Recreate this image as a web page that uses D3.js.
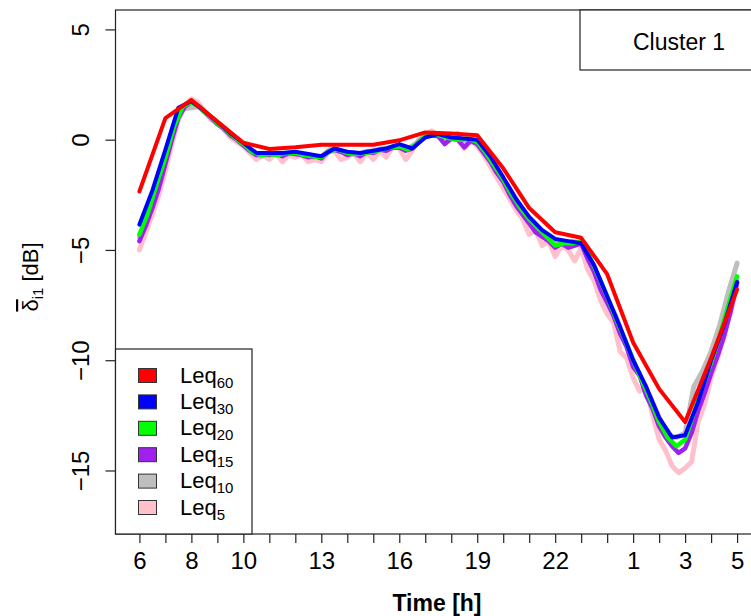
<!DOCTYPE html>
<html>
<head>
<meta charset="utf-8">
<script src="https://cdn.jsdelivr.net/npm/d3@7"></script>
<style>
  body { margin: 0; background: #fff; }
  text { font-family: "Liberation Sans", Arial, sans-serif; fill: #000; }
</style>
</head>
<body>
<div id="chart"></div>
<script>
// hour labels on the x axis (index 0 = 6h ... 23 = 5h)
const hourTicks = d3.range(24);
const hourLabels = {0: '6', 2: '8', 4: '10', 7: '13', 10: '16', 13: '19', 16: '22', 19: '1', 21: '3', 23: '5'};
const yTicks = [5, 0, -5, -10, -15];

const seriesNames = ['60', '30', '20', '15', '10', '5'];
const seriesColors = ['#ff0000', '#0000ff', '#00ff00', '#a020f0', '#bebebe', '#ffc0cb'];

// values in dB, one array per averaging interval
const leq60 = [-2.35, 0.98, 1.8, 0.82, -0.14, -0.42, -0.34, -0.23, -0.23, -0.23, -0.03, 0.33,
  0.28, 0.2, -1.3, -3.1, -4.2, -4.45, -6.1, -9.2, -11.3, -12.8, -9.9, -6.8];

const leq30 = [-3.85, -2.3, -0.45, 1.45, 1.75, 1.3, 0.8, 0.3, -0.15, -0.6, -0.6, -0.6,
  -0.55, -0.65, -0.75, -0.4, -0.55, -0.6, -0.5, -0.4, -0.2, -0.4, 0.1, 0.25,
  0.1, 0.05, 0.0, -0.75, -1.7, -2.7, -3.5, -4.1, -4.5, -4.6, -4.7, -5.7,
  -7.1, -8.5, -10.0, -11.2, -12.6, -13.5, -13.4, -11.9, -10.0, -8.4, -6.45];

const leq20 = [-4.3, -3.3, -2.0, -0.8, 0.6, 1.5, 1.7, 1.45, 1.1, 0.75, 0.45, 0.1,
  -0.2, -0.55, -0.7, -0.65, -0.7, -0.6, -0.6, -0.7, -0.75, -0.8, -0.5, -0.45,
  -0.6, -0.65, -0.6, -0.55, -0.45, -0.35, -0.3, -0.45, -0.2, 0.15, 0.25, 0.15,
  0.05, 0.0, 0.05, -0.1, -0.6, -1.2, -1.8, -2.5, -3.1, -3.6, -4.0, -4.4,
  -4.8, -4.7, -4.7, -4.6, -5.3, -6.2, -7.1, -8.1, -9.0, -10.0, -10.9, -11.8,
  -12.8, -13.5, -13.9, -13.6, -12.4, -11.2, -10.1, -8.9, -7.5, -6.2];

const leq15 = [-4.6, -3.9, -3.1, -2.2, -1.1, 0.0, 1.0, 1.5, 1.7, 1.55, 1.25, 1.0,
  0.7, 0.5, 0.2, 0.0, -0.25, -0.5, -0.7, -0.65, -0.7, -0.6, -0.75, -0.6,
  -0.65, -0.7, -0.8, -0.75, -0.85, -0.55, -0.45, -0.55, -0.7, -0.6, -0.75, -0.55,
  -0.6, -0.45, -0.5, -0.35, -0.35, -0.5, -0.4, -0.1, 0.15, 0.2, 0.15, -0.2,
  0.05, 0.0, -0.35, -0.05, -0.2, -0.6, -1.0, -1.5, -1.9, -2.5, -3.0, -3.4,
  -3.8, -4.2, -4.4, -4.6, -4.9, -4.7, -4.9, -4.8, -4.7, -5.4, -6.0, -6.8,
  -7.4, -8.0, -8.8, -9.4, -10.3, -10.7, -11.6, -12.2, -13.0, -13.5, -13.9, -14.2,
  -14.0, -13.3, -12.3, -11.5, -10.6, -9.8, -8.9, -7.8, -6.5];

const leq10 = [-4.4, -3.4, -2.1, -0.9, 0.5, 1.4, 1.45, 1.5, 1.1, 0.75, 0.4, 0.1,
  -0.25, -0.6, -0.75, -0.65, -0.7, -0.65, -0.6, -0.7, -0.8, -0.75, -0.45, -0.5,
  -0.6, -0.7, -0.55, -0.5, -0.4, -0.4, -0.3, -0.4, -0.15, 0.2, 0.3, 0.1,
  0.1, 0.0, -0.1, -0.15, -0.6, -1.2, -1.8, -2.4, -3.0, -3.6, -4.1, -4.4,
  -4.6, -4.8, -4.6, -4.7, -5.4, -6.3, -7.2, -8.0, -9.1, -10.0, -10.9, -11.7,
  -12.6, -13.4, -13.5, -13.3, -11.2, -10.5, -9.6, -8.4, -6.9, -5.6];

const leq5 = [-5.0, -4.2, -3.4, -2.5, -1.4, -0.2, 0.9, 1.5, 1.85, 1.7, 1.3, 0.9,
  0.8, 0.45, 0.1, -0.1, -0.3, -0.6, -0.9, -0.7, -0.9, -0.6, -1.0, -0.7,
  -0.8, -0.7, -1.0, -0.9, -1.0, -0.6, -0.5, -0.9, -0.8, -0.6, -1.0, -0.6,
  -0.9, -0.5, -0.8, -0.3, -0.4, -0.9, -0.5, 0.0, 0.2, 0.4, 0.2, -0.1,
  0.0, 0.3, -0.4, 0.0, -0.3, -0.7, -1.2, -1.7, -2.2, -2.7, -3.2, -3.6,
  -4.3, -4.1, -4.8, -4.6, -5.3, -4.8, -5.0, -5.5, -4.9, -5.9, -6.4, -7.3,
  -7.9, -8.3, -9.6, -9.9, -10.8, -11.4, -11.2, -12.5, -13.6, -14.1, -14.8, -15.1,
  -14.9, -14.6, -12.8, -12.0, -10.8, -9.9, -8.9, -7.8, -6.4];

const width = 751, height = 616;
const margin = {top: 10, left: 115.5, bottom: 82};
const plotRight = 761; // R box runs past the right edge of the picture

const svg = d3.select('#chart').append('svg')
  .attr('width', width)
  .attr('height', height);

// R style 4% padding round xlim = c(0, 23), ylim = c(-17, 5)
const x = d3.scaleLinear().domain([-0.92, 23.92]).range([margin.left, plotRight]);
const y = d3.scaleLinear().domain([-17.88, 5.88]).range([height - margin.bottom, margin.top]);

const plot = svg.append('g');

// draw the smoothest last so it sits on top
const series = [
  {name: '5', values: leq5, color: seriesColors[5], w: 5},
  {name: '10', values: leq10, color: seriesColors[4], w: 5},
  {name: '15', values: leq15, color: seriesColors[3], w: 4.5},
  {name: '20', values: leq20, color: seriesColors[2], w: 4.5},
  {name: '30', values: leq30, color: seriesColors[1], w: 4},
  {name: '60', values: leq60, color: seriesColors[0], w: 4}
];

series.forEach(function (s) {
  const step = 23 / (s.values.length - 1);
  const line = d3.line()
    .x((d, i) => x(i * step))
    .y(d => y(d));
  plot.append('path')
    .datum(s.values)
    .attr('d', line)
    .attr('fill', 'none')
    .attr('stroke', s.color)
    .attr('stroke-width', s.w)
    .attr('stroke-linejoin', 'round')
    .attr('stroke-linecap', 'round');
});

// plot box
svg.append('rect')
  .attr('x', margin.left)
  .attr('y', margin.top)
  .attr('width', plotRight - margin.left)
  .attr('height', y.range()[0] - margin.top)
  .attr('fill', 'none')
  .attr('stroke', '#222')
  .attr('stroke-width', 1.2);

// x axis
const xAxis = svg.append('g')
  .attr('transform', `translate(0,${y.range()[0]})`)
  .call(d3.axisBottom(x).tickValues(hourTicks).tickSize(9).tickPadding(9)
    .tickFormat(d => hourLabels[d] || ''));
xAxis.select('.domain').remove();
xAxis.selectAll('line').attr('stroke', '#222').attr('stroke-width', 1.2);
xAxis.selectAll('text').style('font-size', '24px').attr('fill', '#000');

// y axis, labels rotated like las = 0 in R
const yAxis = svg.append('g')
  .attr('transform', `translate(${margin.left},0)`)
  .call(d3.axisLeft(y).tickValues(yTicks).tickSize(10).tickFormat(d3.format('d')));
yAxis.select('.domain').remove();
yAxis.selectAll('line').attr('stroke', '#222').attr('stroke-width', 1.2);
yAxis.selectAll('text')
  .style('font-size', '24px')
  .attr('fill', '#000')
  .attr('x', null).attr('dy', null)
  .attr('text-anchor', 'middle')
  .attr('transform', 'translate(-27,0) rotate(-90)');

// axis titles
svg.append('text')
  .attr('x', 437)
  .attr('y', 611)
  .attr('text-anchor', 'middle')
  .style('font-size', '23px')
  .style('font-weight', 'bold')
  .text('Time [h]');

const yTitle = svg.append('text')
  .attr('transform', 'translate(38,277) rotate(-90)')
  .attr('text-anchor', 'middle')
  .style('font-size', '22px');
yTitle.append('tspan').style('text-decoration', 'overline').text('δ');
yTitle.append('tspan').attr('dy', 5).style('font-size', '15px').text('i1');
yTitle.append('tspan').attr('dy', -5).text(' [dB]');

// legend bottom left
const legendTop = 349;
svg.append('rect')
  .attr('x', margin.left)
  .attr('y', legendTop)
  .attr('width', 252 - margin.left)
  .attr('height', y.range()[0] - legendTop)
  .attr('fill', '#fff')
  .attr('stroke', '#222')
  .attr('stroke-width', 1.2);

const legendItem = svg.selectAll('.leg')
  .data(seriesNames)
  .enter().append('g')
    .attr('class', 'leg')
    .attr('transform', (d, i) => `translate(0,${375.5 + i * 26.4})`);

legendItem.append('rect')
  .attr('x', 138.5).attr('y', -7)
  .attr('width', 18).attr('height', 14)
  .attr('fill', (d, i) => seriesColors[i])
  .attr('stroke', '#333');

const legendText = legendItem.append('text')
  .attr('x', 180).attr('y', 7)
  .style('font-size', '22px');
legendText.append('tspan').text('Leq');
legendText.append('tspan').attr('dy', 5).style('font-size', '15px').text(d => d);

// cluster label top right
svg.append('rect')
  .attr('x', 580)
  .attr('y', margin.top)
  .attr('width', 200)
  .attr('height', 60)
  .attr('fill', '#fff')
  .attr('stroke', '#222')
  .attr('stroke-width', 1.2);

svg.append('text')
  .attr('x', 633)
  .attr('y', 50)
  .style('font-size', '23px')
  .text('Cluster 1');
</script>
</body>
</html>
